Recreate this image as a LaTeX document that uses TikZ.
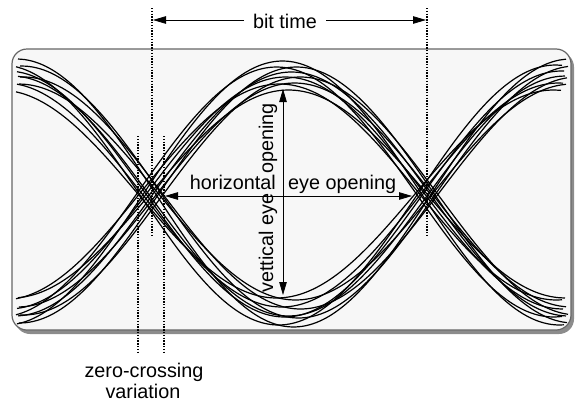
\documentclass[tikz,border=0pt]{standalone}
\usepackage{fontspec}
\setmainfont{Liberation Sans}
\usetikzlibrary{arrows.meta}
\begin{document}
\begin{tikzpicture}[x=1pt,y=-1pt,
  lbl/.style={font=\fontsize{19.8}{24}\selectfont, inner sep=0pt},
  onetip/.style={-{Triangle[length=13pt,width=7.5pt]}},
  twotips/.style={{Triangle[length=13pt,width=7.5pt]}-{Triangle[length=13pt,width=7.5pt]}},
  dimline/.style={line width=0.8pt, black},
  guide/.style={line width=1.1pt, dash pattern=on 1.4pt off 1.4pt},
  eyecurve/.style={line width=1.2pt, smooth}]
\useasboundingbox (0,0) rectangle (576,402);
% panel with shadow
\fill[black!45, rounded corners=15pt] (15,52) rectangle (574,334);
\filldraw[fill=black!3, draw=black!60, line width=1.2pt, rounded corners=15pt] (12,49) rectangle (571,330);
% eye curves: high in the middle
\foreach \A/\D/\C/\S/\E in {132/-6/193/17/564, 128/8/195/19/567, 125/-12/192/16/562, 122/3/194/18/566,
  119/12/196/20/568, 116/-3/193/17/563, 112/6/195/19/566, 108/-9/192/16/562, 104/0/194/18/565}
  \draw[eyecurve] plot[domain=\S:\E, samples=80] (\x,{\C-\A*sin((\x-150-\D)/277*180)});
% eye curves: low in the middle
\foreach \A/\D/\C/\S/\E in {134/5/193/18/566, 130/-10/195/16/562, 126/10/192/20/568, 123/-4/194/17/564,
  120/0/196/18/565, 116/12/193/20/567, 112/-7/195/17/563, 108/7/192/19/566, 104/-12/194/16/561}
  \draw[eyecurve] plot[domain=\S:\E, samples=80] (\x,{\C+\A*sin((\x-150-\D)/277*180)});
% dotted guides
\coordinate (gLt) at (152,8);  \coordinate (gLb) at (152,236);
\coordinate (gRt) at (427,8);  \coordinate (gRb) at (427,236);
\coordinate (zAt) at (138,136); \coordinate (zAb) at (138,354);
\coordinate (zBt) at (164,136); \coordinate (zBb) at (164,354);
\draw[guide] (gLt) -- (gLb);
\draw[guide] (gRt) -- (gRb);
\draw[guide] (zAt) -- (zAb);
\draw[guide] (zBt) -- (zBb);
% bit time
\node[lbl, anchor=base] (bt) at (285,28) {bit time};
\coordinate (btL) at (244,20); \coordinate (btLa) at (153,20);
\coordinate (btR) at (326,20); \coordinate (btRa) at (426,20);
\draw[dimline, onetip] (btL) -- (btLa);
\draw[dimline, onetip] (btR) -- (btRa);
% horizontal eye opening
\coordinate (hL) at (165,196); \coordinate (hR) at (412,196);
\draw[dimline, twotips] (hL) -- (hR);
\node[lbl, anchor=base east] (hz) at (276,189) {horizontal};
\node[lbl, anchor=base west] (eo) at (288,189) {eye opening};
% vertical eye opening
\coordinate (vT) at (283,89); \coordinate (vB) at (283,295);
\draw[dimline, twotips] (vT) -- (vB);
\node[lbl, rotate=90, anchor=base west] (ve) at (273,293) {vettical eye};
\node[lbl, rotate=90, anchor=base east] (op) at (273,103) {opening};
% zero-crossing label
\node[lbl, anchor=base] (zc1) at (144,377) {zero-crossing};
\node[lbl, anchor=base] (zc2) at (143,398) {variation};
\end{tikzpicture}
\end{document}
